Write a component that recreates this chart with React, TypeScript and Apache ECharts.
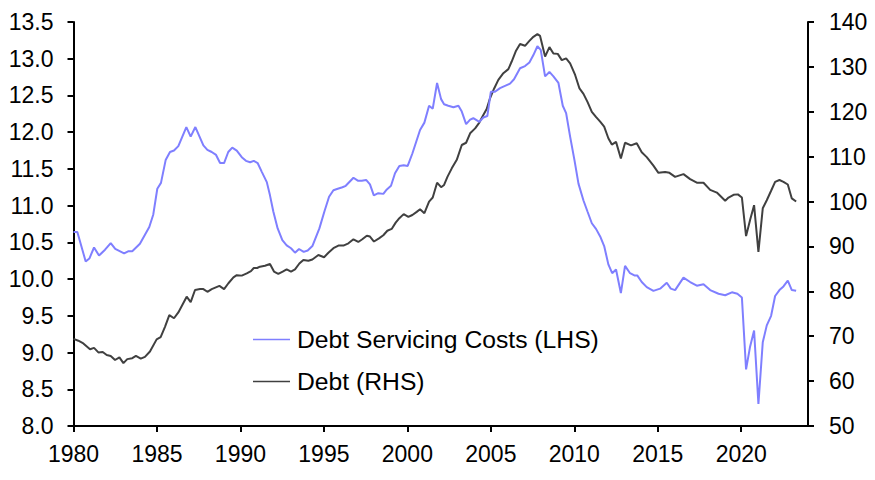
import React, { useEffect, useRef } from "react";
import * as echarts from "echarts";

const dscYears = [
  1980.0, 1980.23, 1980.73, 1980.95, 1981.23, 1981.53, 1981.89, 1982.23, 1982.5, 1983.03,
  1983.3, 1983.52, 1983.98, 1984.54, 1984.78, 1985.02, 1985.24, 1985.52, 1985.78, 1986.02,
  1986.28, 1986.76, 1987.02, 1987.3, 1987.78, 1988.02, 1988.28, 1988.54, 1988.78, 1989.02,
  1989.27, 1989.51, 1989.78, 1990.08, 1990.33, 1990.58, 1990.8, 1991.03, 1991.28, 1991.58,
  1991.77, 1991.97, 1992.23, 1992.51, 1992.77, 1993.03, 1993.27, 1993.51, 1993.79, 1994.03,
  1994.31, 1994.73, 1995.03, 1995.31, 1995.57, 1995.83, 1996.11, 1996.31, 1996.77, 1997.03,
  1997.27, 1997.53, 1997.76, 1997.99, 1998.26, 1998.56, 1998.77, 1999.02, 1999.26, 1999.52,
  1999.78, 2000.02, 2000.3, 2000.76, 2001.02, 2001.3, 2001.52, 2001.78, 2002.02, 2002.2,
  2002.45, 2002.76, 2003.06, 2003.26, 2003.52, 2003.76, 2003.95, 2004.31, 2004.55, 2004.79,
  2005.0, 2005.25, 2005.55, 2005.85, 2006.15, 2006.39, 2006.75, 2007.05, 2007.31, 2007.55,
  2007.79, 2007.99, 2008.25, 2008.51, 2008.75, 2009.05, 2009.31, 2009.51, 2009.75, 2010.01,
  2010.25, 2010.55, 2010.79, 2011.05, 2011.31, 2011.55, 2011.79, 2012.04, 2012.27, 2012.5,
  2012.79, 2013.04, 2013.34, 2013.6, 2013.77, 2014.04, 2014.34, 2014.74, 2015.14, 2015.54,
  2015.78, 2016.04, 2016.54, 2016.94, 2017.34, 2017.74, 2018.14, 2018.64, 2019.04, 2019.44,
  2019.77, 2020.04, 2020.29, 2020.53, 2020.77, 2021.03, 2021.29, 2021.53, 2021.79, 2022.03,
  2022.29, 2022.53, 2022.79, 2023.03, 2023.29,
];
const dscValues = [
  10.64, 10.64, 10.24, 10.28, 10.43, 10.32, 10.4, 10.49, 10.41, 10.35,
  10.38, 10.38, 10.48, 10.71, 10.88, 11.23, 11.31, 11.62, 11.73, 11.75,
  11.81, 12.07, 11.94, 12.07, 11.82, 11.76, 11.73, 11.69, 11.58, 11.58,
  11.73, 11.79, 11.75, 11.66, 11.61, 11.59, 11.61, 11.58, 11.46, 11.32,
  11.14, 10.92, 10.69, 10.53, 10.46, 10.42, 10.36, 10.41, 10.37, 10.39,
  10.45, 10.69, 10.92, 11.12, 11.21, 11.23, 11.25, 11.27, 11.38, 11.34,
  11.34, 11.35, 11.29, 11.14, 11.17, 11.16, 11.22, 11.27, 11.44, 11.54,
  11.55, 11.54, 11.71, 12.03, 12.13, 12.36, 12.32, 12.67, 12.45, 12.38,
  12.36, 12.34, 12.36, 12.28, 12.11, 12.17, 12.19, 12.14, 12.2, 12.22,
  12.55, 12.55, 12.6, 12.63, 12.66, 12.72, 12.87, 12.9, 12.95, 13.05,
  13.17, 13.12, 12.76, 12.82, 12.76, 12.67, 12.36, 12.26, 11.94, 11.62,
  11.3, 11.07, 10.92, 10.76, 10.68, 10.58, 10.45, 10.2, 10.08, 10.13,
  9.81, 10.18, 10.08, 10.05, 10.05, 9.96, 9.89, 9.84, 9.87, 9.95,
  9.87, 9.85, 10.02, 9.96, 9.91, 9.93, 9.85, 9.8, 9.78, 9.82,
  9.8, 9.75, 8.77, 9.08, 9.3, 8.3, 9.14, 9.37, 9.5, 9.77,
  9.85, 9.9, 9.98, 9.85, 9.84,
];

const debtYears = [
  1980.0, 1980.29, 1980.59, 1980.99, 1981.23, 1981.49, 1981.75, 1981.99, 1982.23, 1982.49,
  1982.75, 1982.99, 1983.22, 1983.52, 1983.74, 1984.03, 1984.28, 1984.58, 1984.98, 1985.22,
  1985.48, 1985.74, 1986.02, 1986.28, 1986.78, 1987.02, 1987.28, 1987.58, 1987.78, 1988.02,
  1988.28, 1988.74, 1989.02, 1989.28, 1989.58, 1989.78, 1990.08, 1990.38, 1990.63, 1990.8,
  1991.0, 1991.17, 1991.47, 1991.77, 1992.01, 1992.27, 1992.53, 1992.77, 1993.03, 1993.27,
  1993.53, 1993.77, 1994.07, 1994.31, 1994.67, 1995.01, 1995.27, 1995.57, 1995.87, 1996.17,
  1996.47, 1996.77, 1997.06, 1997.3, 1997.57, 1997.76, 1998.0, 1998.3, 1998.56, 1998.8,
  1999.06, 1999.3, 1999.52, 1999.78, 2000.06, 2000.3, 2000.56, 2000.76, 2001.02, 2001.3,
  2001.52, 2001.78, 2002.02, 2002.2, 2002.4, 2002.66, 2002.96, 2003.26, 2003.52, 2003.76,
  2004.06, 2004.31, 2004.55, 2004.75, 2004.95, 2005.2, 2005.45, 2005.75, 2006.05, 2006.25,
  2006.51, 2006.75, 2007.05, 2007.31, 2007.55, 2007.79, 2007.95, 2008.25, 2008.51, 2008.75,
  2009.01, 2009.25, 2009.51, 2009.75, 2010.05, 2010.31, 2010.55, 2010.79, 2011.05, 2011.31,
  2011.55, 2011.79, 2012.04, 2012.25, 2012.5, 2012.79, 2013.04, 2013.4, 2013.74, 2014.04,
  2014.34, 2014.74, 2015.04, 2015.44, 2015.7, 2016.04, 2016.54, 2016.94, 2017.34, 2017.74,
  2018.14, 2018.54, 2019.04, 2019.24, 2019.54, 2019.8, 2020.04, 2020.29, 2020.53, 2020.77,
  2021.03, 2021.29, 2021.53, 2021.79, 2022.03, 2022.29, 2022.53, 2022.79, 2023.03, 2023.29,
];
const debtValues = [
  69.4, 69.0, 68.4, 67.1, 67.4, 66.4, 66.5, 65.8, 65.6, 64.7,
  65.3, 64.0, 64.9, 65.1, 65.6, 65.0, 65.4, 66.6, 69.3, 69.8,
  72.1, 74.7, 74.0, 75.3, 78.8, 77.6, 80.3, 80.5, 80.5, 79.9,
  80.5, 81.2, 80.5, 81.8, 83.1, 83.6, 83.5, 84.0, 84.5, 85.2,
  85.2, 85.5, 85.7, 86.1, 84.4, 83.9, 84.4, 84.9, 84.4, 84.9,
  86.2, 87.0, 86.8, 87.1, 88.1, 87.6, 88.6, 89.6, 90.2, 90.2,
  90.7, 91.6, 91.0, 91.6, 92.4, 92.2, 91.1, 91.8, 92.5, 93.5,
  93.9, 95.3, 96.3, 97.2, 96.6, 97.0, 97.7, 98.3, 97.4, 100.0,
  100.9, 104.2, 103.2, 103.7, 105.5, 107.4, 109.3, 112.6, 113.1, 115.2,
  116.3, 117.6, 119.3, 120.6, 123.0, 125.2, 127.1, 128.6, 129.5, 131.2,
  133.6, 135.1, 134.7, 135.8, 136.7, 137.3, 136.9, 132.3, 134.4, 133.0,
  132.9, 131.5, 131.9, 130.8, 128.2, 125.2, 124.0, 122.2, 120.0, 118.8,
  117.8, 116.7, 114.1, 112.7, 113.3, 109.6, 113.1, 112.5, 113.0, 111.0,
  109.9, 108.0, 106.4, 106.6, 106.4, 105.5, 106.1, 105.0, 104.2, 104.2,
  102.6, 102.0, 100.2, 100.9, 101.5, 101.6, 100.9, 92.3, 95.9, 99.2,
  88.8, 98.5, 100.3, 102.4, 104.4, 104.8, 104.4, 103.8, 100.7, 100.0,
];

const xTickYears = [1980, 1985, 1990, 1995, 2000, 2005, 2010, 2015, 2020];
const seriesNames = ["Debt Servicing Costs (LHS)", "Debt (RHS)"];

const FONT = "'Liberation Sans', Arial, sans-serif";
const BLUE = "#7f7fff";
const DARK = "#404040";

export default function App() {
  const ref = useRef<HTMLDivElement>(null);
  useEffect(() => {
    if (!ref.current) return;
    const chart = echarts.init(ref.current, undefined, { renderer: "svg" });
    const axisLine = { show: true, lineStyle: { color: "#000", width: 2 } };
    const axisTick = { show: true, length: 6, lineStyle: { color: "#000", width: 2 } };
    const label = { color: "#000", fontSize: 23, fontFamily: FONT };
    chart.setOption({
      animation: false,
      backgroundColor: "#fff",
      grid: { left: 73.5, right: 67, top: 22, bottom: 54, containLabel: false },
      legend: {
        orient: "vertical",
        left: 248,
        top: 322,
        itemWidth: 37,
        itemHeight: 14,
        itemGap: 17,
        selectedMode: false,
        textStyle: { color: "#000", fontSize: 24.7, fontFamily: FONT, lineHeight: 24, padding: [0, 0, 0, 2] },
        data: [
          { name: seriesNames[0], itemStyle: { color: BLUE }, icon: "path://M0,6.2 L37,6.2 L37,7.8 L0,7.8 Z" },
          { name: seriesNames[1], itemStyle: { color: DARK }, icon: "path://M0,6.2 L37,6.2 L37,7.8 L0,7.8 Z" },
        ],
      },
      xAxis: {
        type: "value",
        min: 1980,
        max: 2024,
        interval: 5,
        splitLine: { show: false },
        axisLine: { ...axisLine, onZero: false },
        axisTick: { ...axisTick, customValues: xTickYears },
        axisLabel: { ...label, margin: 16, customValues: xTickYears, formatter: (v: number) => String(v) },
      },
      yAxis: [
        {
          type: "value",
          min: 8,
          max: 13.5,
          interval: 0.5,
          position: "left",
          splitLine: { show: false },
          axisLine,
          axisTick,
          axisLabel: { ...label, margin: 20, formatter: (v: number) => v.toFixed(1) },
        },
        {
          type: "value",
          min: 50,
          max: 140,
          interval: 10,
          position: "right",
          splitLine: { show: false },
          axisLine,
          axisTick,
          axisLabel: { ...label, margin: 21 },
        },
      ],
      series: [
        {
          name: seriesNames[1],
          type: "line",
          yAxisIndex: 1,
          symbol: "none",
          data: debtYears.map((y, i) => [y, debtValues[i]]),
          lineStyle: { color: DARK, width: 2 },
          itemStyle: { color: DARK },
        },
        {
          name: seriesNames[0],
          type: "line",
          yAxisIndex: 0,
          symbol: "none",
          data: dscYears.map((y, i) => [y, dscValues[i]]),
          lineStyle: { color: BLUE, width: 2 },
          itemStyle: { color: BLUE },
        },
      ],
    });
    return () => chart.dispose();
  }, []);
  return (
    <div
      ref={ref}
      style={{ position: "fixed", left: 0, top: 0, width: 875, height: 480, background: "#fff" }}
    />
  );
}
